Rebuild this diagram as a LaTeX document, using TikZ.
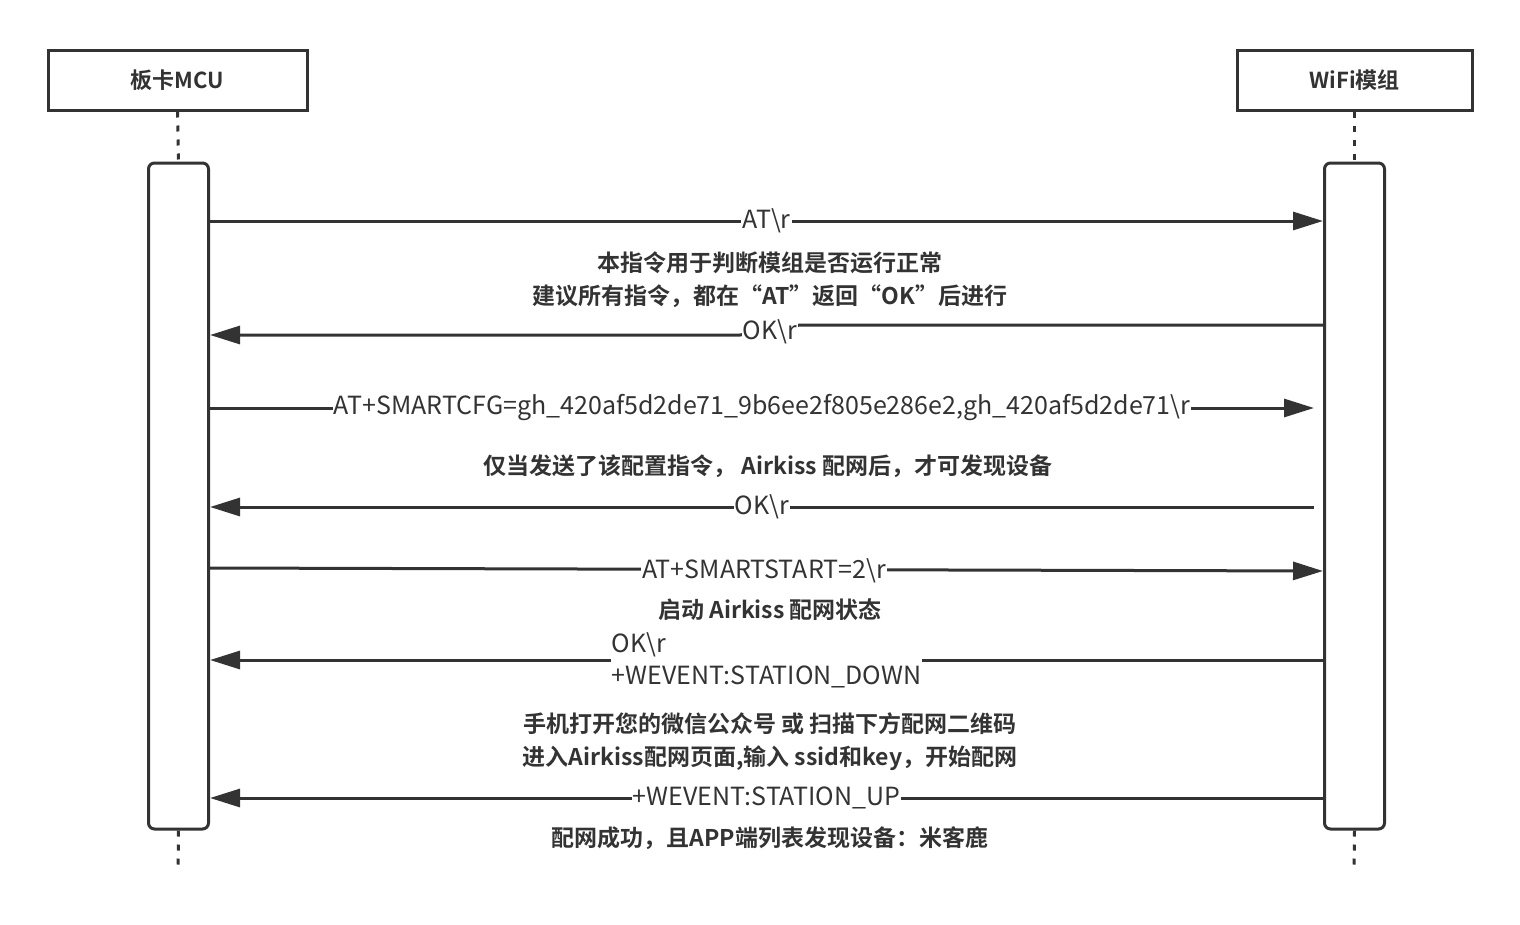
\documentclass[tikz,border=0pt]{standalone}
\usepackage{fontspec}
\setmainfont{Noto Sans CJK SC}
\newfontfamily\cjkb{Noto Sans CJK SC Bold}
\usetikzlibrary{arrows.meta}
\definecolor{ink}{HTML}{333333}
\tikzset{
  x=1pt,y=-1pt,
  hdr/.style={draw=ink,line width=3pt,minimum width=#1,minimum height=60pt,inner sep=0pt,font=\fontsize{22}{26}\cjkb\selectfont,text=ink},
  act/.style={draw=ink,line width=3pt,rounded corners=6pt,minimum width=60pt,inner sep=0pt},
  life/.style={draw=ink,line width=3pt,dash pattern=on 6pt off 8pt},
  msg/.style={draw=ink,line width=3pt,-{Triangle[length=30pt,width=18pt]}},
  lbl/.style={fill=white,inner sep=1pt,font=\fontsize{25}{32}\selectfont,text=ink},
  note/.style={align=center,font=\fontsize{23}{33}\cjkb\selectfont,text=ink}
}
\begin{document}
\begin{tikzpicture}
\useasboundingbox (0,0) rectangle (1520,924);
\node[hdr=259pt] (mcu) at (177.5,80) {板卡MCU};
\node[hdr=235pt] (wifi) at (1354.5,80) {WiFi模组};
\node[act,minimum height=666pt] (A) at (178.5,496) {};
\node[act,minimum height=666pt] (B) at (1354.5,496) {};
\coordinate (a1) at (178,870); \coordinate (b1) at (1354,870);
\draw[life] (mcu.south) -- (A.north);
\draw[life] (wifi.south) -- (B.north);
\draw[life] (A.south) -- (a1);
\draw[life] (B.south) -- (b1);
% 1
\draw[msg] (A.east|-0,221) -- node[lbl]{AT\textbackslash r} (B.west|-0,221);
\node[note] (n1) at (770,280) {本指令用于判断模组是否运行正常\\建议所有指令，都在“AT”返回“OK”后进行};
\coordinate (j1) at (800,325); \coordinate (j2) at (740,335);
\draw[msg] (B.west|-0,325) -- (j1) -- (j2) -- (A.east|-0,335);
\node[lbl] (l2) at (770,332) {OK\textbackslash r};
% 2
\coordinate (s2) at (1314,408);
\draw[msg] (A.east|-0,408) -- node[lbl]{AT+SMARTCFG=gh\_420af5d2de71\_9b6ee2f805e286e2,gh\_420af5d2de71\textbackslash r} (s2);
\node[note] (n2) at (768,466) {仅当发送了该配置指令， Airkiss 配网后，才可发现设备};
\coordinate (s3) at (1314,507);
\draw[msg] (s3) -- node[lbl]{OK\textbackslash r} (A.east|-0,507);
% 3
\draw[msg] (A.east|-0,568) -- (B.west|-0,571);
\node[lbl] (l4) at (764,571) {AT+SMARTSTART=2\textbackslash r};
\node[note] (n3) at (770,610) {启动 Airkiss 配网状态};
\draw[msg] (B.west|-0,660) -- node[lbl,align=left]{OK\textbackslash r\\+WEVENT:STATION\_DOWN} (A.east|-0,660);
\node[note] (n4) at (770,742) {手机打开您的微信公众号 或 扫描下方配网二维码\\进入Airkiss配网页面,输入 ssid和key，开始配网};
\draw[msg] (B.west|-0,798) -- node[lbl]{+WEVENT:STATION\_UP} (A.east|-0,798);
\node[note] (n5) at (770,838) {配网成功，且APP端列表发现设备：米客鹿};
\end{tikzpicture}
\end{document}
